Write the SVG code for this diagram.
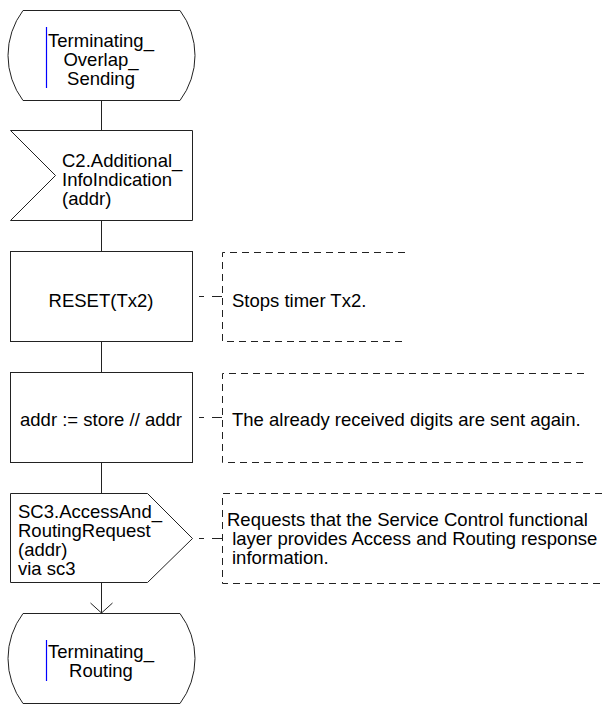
<svg xmlns="http://www.w3.org/2000/svg" width="606" height="704" viewBox="0 0 606 704">
<style>
.s{fill:#fff;stroke:#222;stroke-width:1}
.c{fill:none;stroke:#222;stroke-width:1}
.d{fill:none;stroke:#222;stroke-width:1;stroke-dasharray:7 5}
.t{font-family:"Liberation Sans",Arial,sans-serif;font-size:18.5px;fill:#000}
.m{text-anchor:middle}
.b{stroke:#0000ff;stroke-width:1.2}
</style>
<rect width="606" height="704" fill="#fff"/>
<g id="connectors">
<line class="c" x1="101.5" y1="100" x2="101.5" y2="130"/>
<line class="c" x1="101.5" y1="220" x2="101.5" y2="251"/>
<line class="c" x1="101.5" y1="341" x2="101.5" y2="372"/>
<line class="c" x1="101.5" y1="462" x2="101.5" y2="493"/>
<line class="c" x1="101.5" y1="582" x2="101.5" y2="613"/>
<polyline class="c" points="90.5,603 101.5,613 112.5,603"/>
<line class="c" x1="199" y1="296.5" x2="222" y2="296.5" stroke-dasharray="5 8 10"/>
<line class="c" x1="199" y1="417.5" x2="222" y2="417.5" stroke-dasharray="5 8 10"/>
<line class="c" x1="199" y1="538.5" x2="222" y2="538.5" stroke-dasharray="5 8 10"/>
</g>
<g id="state_top">
<path class="s" d="M23,10.5 L180,10.5 A75,75 0 0 1 180,100.5 L23,100.5 A75,75 0 0 1 23,10.5 Z"/>
<line class="b" x1="46.5" y1="27" x2="46.5" y2="88"/>
<text class="t m" x="101" y="47">Terminating_</text>
<text class="t m" x="101" y="66">Overlap_</text>
<text class="t m" x="101" y="85">Sending</text>
</g>
<g id="input_signal">
<polygon class="s" points="10.5,130.5 192.5,130.5 192.5,220.5 10.5,220.5 55.5,175.5"/>
<text class="t" x="62" y="167">C2.Additional_</text>
<text class="t" x="62" y="186">InfoIndication</text>
<text class="t" x="62" y="205">(addr)</text>
</g>
<g id="task_reset">
<rect class="s" x="10.5" y="251.5" width="182" height="90"/>
<text class="t m" x="101" y="307">RESET(Tx2)</text>
</g>
<g id="comment_reset">
<polyline class="d" points="405,252.5 222.5,252.5 222.5,341.5 405,341.5"/>
<text class="t" x="232" y="307">Stops timer Tx2.</text>
</g>
<g id="task_addr">
<rect class="s" x="10.5" y="372.5" width="182" height="90"/>
<text class="t m" x="101" y="426">addr := store // addr</text>
</g>
<g id="comment_addr">
<polyline class="d" points="584,373.5 222.5,373.5 222.5,462.5 584,462.5"/>
<text class="t" x="232" y="426">The already received digits are sent again.</text>
</g>
<g id="output_signal">
<polygon class="s" points="10.5,493.5 147.5,493.5 192.5,538.5 147.5,582.5 10.5,582.5"/>
<text class="t" x="18" y="518">SC3.AccessAnd_</text>
<text class="t" x="18" y="537">RoutingRequest</text>
<text class="t" x="18" y="556">(addr)</text>
<text class="t" x="18" y="575">via sc3</text>
</g>
<g id="comment_output">
<polyline class="d" points="602,493.5 222.5,493.5 222.5,583.5 602,583.5"/>
<text class="t" x="227" y="526">Requests that the Service Control functional</text>
<text class="t" x="227" y="545" xml:space="preserve"> layer provides Access and Routing response</text>
<text class="t" x="232" y="564">information.</text>
</g>
<g id="state_bottom">
<path class="s" d="M23,613.5 L180,613.5 A75,75 0 0 1 180,703.5 L23,703.5 A75,75 0 0 1 23,613.5 Z"/>
<line class="b" x1="46.5" y1="640" x2="46.5" y2="681"/>
<text class="t m" x="101" y="658">Terminating_</text>
<text class="t m" x="101" y="677">Routing</text>
</g>
</svg>
